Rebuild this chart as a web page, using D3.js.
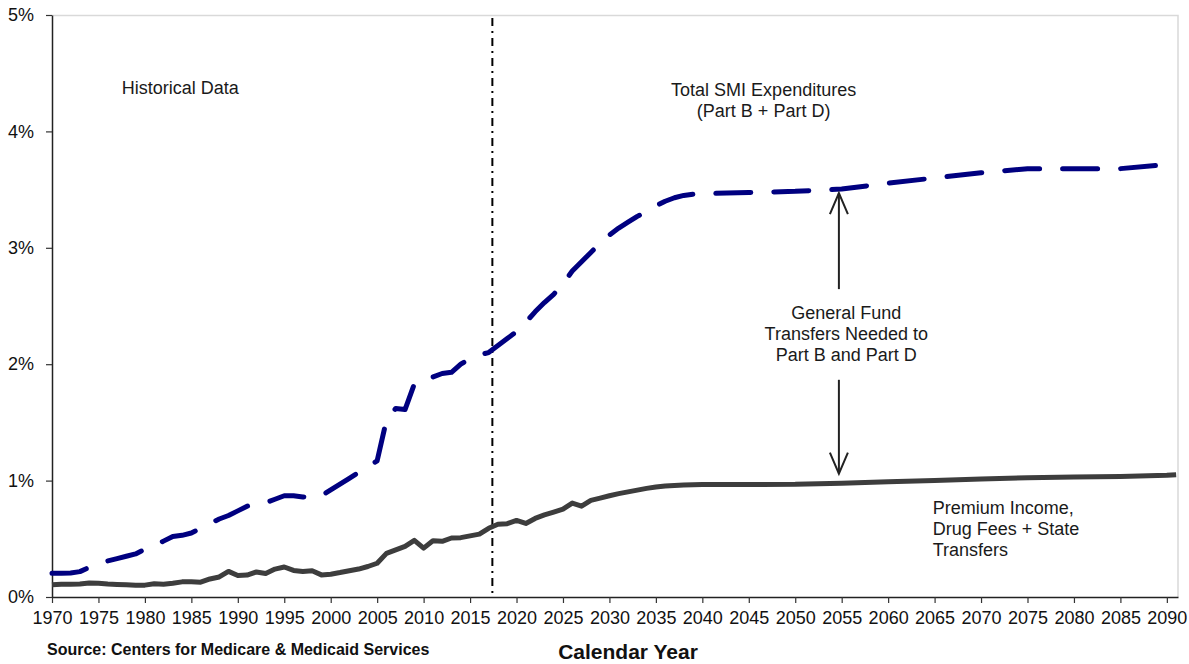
<!DOCTYPE html>
<html>
<head>
<meta charset="utf-8">
<script src="https://cdn.jsdelivr.net/npm/d3@7"></script>
<style>
  body { margin: 0; background: #fff; }
  svg { display: block; font-family: "Liberation Sans", Arial, sans-serif; }
</style>
</head>
<body>
<div id="chart"></div>
<script>
const width = 1189;
const height = 664;
const margin = { top: 15, left: 52, bottom: 67, right: 11 };

// calendar years (annual to 2040, then every 5 years)
const years = [
  1970, 1971, 1972, 1973, 1974, 1975, 1976, 1977, 1978, 1979,
  1980, 1981, 1982, 1983, 1984, 1985, 1986, 1987, 1988, 1989,
  1990, 1991, 1992, 1993, 1994, 1995, 1996, 1997, 1998, 1999,
  2000, 2001, 2002, 2003, 2004, 2005, 2006, 2007, 2008, 2009,
  2010, 2011, 2012, 2013, 2014, 2015, 2016, 2017, 2018, 2019,
  2020, 2021, 2022, 2023, 2024, 2025, 2026, 2027, 2028, 2029,
  2030, 2031, 2032, 2033, 2034, 2035, 2036, 2037, 2038, 2039,
  2040, 2045, 2050, 2055, 2060, 2065, 2070, 2075, 2080, 2085,
  2090, 2091
];

// Total SMI expenditures (Part B + Part D), % of GDP
const totalSMI = [
  0.205, 0.205, 0.207, 0.218, 0.255, 0.285, 0.31, 0.33, 0.35, 0.37,
  0.41, 0.44, 0.48, 0.52, 0.53, 0.55, 0.59, 0.63, 0.67, 0.70,
  0.74, 0.78, 0.80, 0.81, 0.84, 0.87, 0.87, 0.86, 0.855, 0.87,
  0.92, 0.97, 1.02, 1.07, 1.12, 1.17, 1.52, 1.62, 1.61, 1.83,
  1.87, 1.89, 1.92, 1.93, 2.00, 2.05, 2.08, 2.10, 2.16, 2.22,
  2.28, 2.36, 2.45, 2.53, 2.60, 2.69, 2.80, 2.88, 2.96, 3.04,
  3.11, 3.17, 3.22, 3.27, 3.31, 3.36, 3.40, 3.43, 3.45, 3.46,
  3.465, 3.475, 3.485, 3.505, 3.555, 3.60, 3.645, 3.68, 3.68, 3.68,
  3.715, 3.725
];

// Premium income, drug fees + state transfers, % of GDP
const premiumIncome = [
  0.105, 0.11, 0.11, 0.112, 0.12, 0.118, 0.112, 0.108, 0.105, 0.102,
  0.102, 0.113, 0.11, 0.118, 0.13, 0.13, 0.127, 0.155, 0.172, 0.22,
  0.185, 0.188, 0.215, 0.202, 0.24, 0.258, 0.228, 0.22, 0.226, 0.19,
  0.196, 0.21, 0.226, 0.24, 0.262, 0.29, 0.375, 0.405, 0.435, 0.486,
  0.42, 0.483, 0.478, 0.507, 0.51, 0.525, 0.54, 0.59, 0.625, 0.63,
  0.658, 0.632, 0.675, 0.705, 0.73, 0.755, 0.807, 0.78, 0.83, 0.85,
  0.87, 0.888, 0.903, 0.918, 0.933, 0.945, 0.953, 0.958, 0.962, 0.965,
  0.967, 0.967, 0.968, 0.978, 0.99, 1.00, 1.013, 1.024, 1.03, 1.036,
  1.045, 1.05
];

const xTicks = [1970, 1975, 1980, 1985, 1990, 1995, 2000, 2005, 2010, 2015,
  2020, 2025, 2030, 2035, 2040, 2045, 2050, 2055, 2060, 2065, 2070, 2075,
  2080, 2085, 2090];
const yTicks = [0, 1, 2, 3, 4, 5];

const historyEnd = 2017.4;
const arrowYear = 2054.7;

const iwidth = width - margin.left - margin.right;
const iheight = height - margin.top - margin.bottom;

const svg = d3.select("#chart").append("svg")
  .attr("width", width)
  .attr("height", height);

const g = svg.append("g")
  .attr("transform", `translate(${margin.left},${margin.top})`);

const x = d3.scaleLinear().domain([1970, 2091.2]).range([0, iwidth]);
const y = d3.scaleLinear().domain([0, 5]).range([iheight, 0]);

// light plot-area border (top & right)
g.append("path")
  .attr("d", `M0,0.5H${iwidth}V${iheight}`)
  .attr("fill", "none")
  .attr("stroke", "#d9d9d9")
  .attr("stroke-width", 1.5);

// axes
const xAxis = g.append("g")
  .attr("transform", `translate(0,${iheight})`)
  .call(d3.axisBottom(x).tickValues(xTicks).tickFormat(d3.format("d"))
    .tickSize(6).tickSizeOuter(0).tickPadding(8));

const yAxis = g.append("g")
  .call(d3.axisLeft(y).tickValues(yTicks).tickFormat((d) => d + "%")
    .tickSize(6).tickSizeOuter(0).tickPadding(12));

[xAxis, yAxis].forEach((a) => {
  a.select(".domain").attr("stroke", "#222").attr("stroke-width", 1.5);
  a.selectAll(".tick line").attr("stroke", "#333").attr("stroke-width", 1.2);
  a.selectAll(".tick text")
    .attr("fill", "#111")
    .style("font-size", "18px")
    .style("font-family", "'Liberation Sans', Arial, sans-serif");
});

// historical / projected divider
g.append("line")
  .attr("x1", x(historyEnd)).attr("x2", x(historyEnd))
  .attr("y1", 3).attr("y2", iheight)
  .attr("stroke", "#000")
  .attr("stroke-width", 2)
  .attr("stroke-dasharray", "8,5,2,5");

const line = (vals) => d3.line()
  .x((d, i) => x(years[i]))
  .y((d) => y(d))(vals);

g.append("path")
  .attr("d", line(premiumIncome))
  .attr("fill", "none")
  .attr("stroke", "#3d3d3d")
  .attr("stroke-width", 5)
  .attr("stroke-linejoin", "round");

g.append("path")
  .attr("d", line(totalSMI))
  .attr("fill", "none")
  .attr("stroke", "#000080")
  .attr("stroke-width", 5)
  .attr("stroke-linecap", "round")
  .attr("stroke-linejoin", "round")
  .attr("stroke-dasharray", "35,23");

// arrows between the two lines
function arrow(y0, y1) {
  const ax = x(arrowYear);
  const p0 = y(y0), p1 = y(y1);
  const dir = p1 < p0 ? 1 : -1;
  g.append("line")
    .attr("x1", ax).attr("x2", ax)
    .attr("y1", p0).attr("y2", p1)
    .attr("stroke", "#222").attr("stroke-width", 2);
  g.append("path")
    .attr("d", `M${ax - 9},${p1 + dir * 21}L${ax},${p1}L${ax + 9},${p1 + dir * 21}`)
    .attr("fill", "none").attr("stroke", "#222").attr("stroke-width", 2);
}
arrow(2.645, 3.47);
arrow(1.866, 1.06);

// annotations
function label(lines, xv, yv, anchor) {
  const t = g.append("text")
    .attr("x", x(xv)).attr("y", y(yv))
    .attr("text-anchor", anchor)
    .attr("fill", "#1a1a1a")
    .style("font-size", "18px");
  lines.forEach((s, i) => {
    t.append("tspan").attr("x", x(xv)).attr("dy", i === 0 ? 0 : 21).text(s);
  });
}
label(["Historical Data"], 1983.8, 4.32, "middle");
label(["Total SMI Expenditures", "(Part B + Part D)"], 2046.6, 4.3, "middle");
label(["General Fund", "Transfers Needed to", "Part B and Part D"], 2055.5, 2.385, "middle");
label(["Premium Income,", "Drug Fees + State", "Transfers"], 2064.8, 0.71, "start");

svg.append("text")
  .attr("x", 47).attr("y", 655)
  .attr("fill", "#111")
  .style("font-size", "16px").style("font-weight", "bold")
  .text("Source: Centers for Medicare & Medicaid Services");

svg.append("text")
  .attr("x", 628).attr("y", 659)
  .attr("text-anchor", "middle")
  .attr("fill", "#111")
  .style("font-size", "21px").style("font-weight", "bold")
  .text("Calendar Year");
</script>
</body>
</html>
